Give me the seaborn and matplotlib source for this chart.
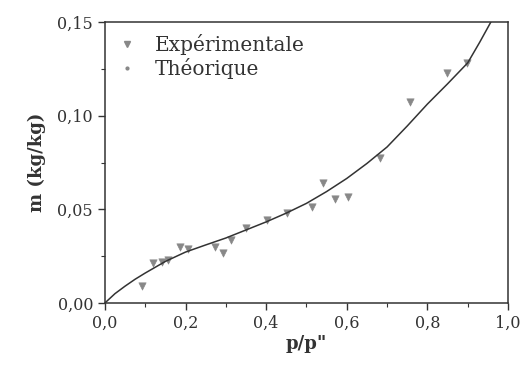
import numpy as np
import pandas as pd
import matplotlib
matplotlib.use('Agg')
import matplotlib.pyplot as plt
import matplotlib.ticker as ticker
from matplotlib.lines import Line2D
import seaborn as sns

exp_x = [0.091, 0.12, 0.141, 0.157, 0.186, 0.207, 0.273, 0.293, 0.314, 0.351,
         0.401, 0.451, 0.513, 0.542, 0.571, 0.603, 0.682, 0.757, 0.848, 0.897]
exp_y = [0.0091, 0.0212, 0.022, 0.023, 0.030, 0.029, 0.030, 0.0265, 0.0336, 0.0399,
         0.0443, 0.0479, 0.0514, 0.0642, 0.0553, 0.0567, 0.0772, 0.1075, 0.1226, 0.128]

# courbe théorique
th_x = [0.0, 0.025, 0.05, 0.075, 0.1, 0.15, 0.2, 0.25, 0.3, 0.35, 0.4, 0.45, 0.5,
        0.55, 0.6, 0.65, 0.7, 0.75, 0.8, 0.85, 0.9, 0.93, 0.96]
th_y = [0.0, 0.005, 0.009, 0.0127, 0.016, 0.0222, 0.0272, 0.031, 0.0347, 0.039, 0.0433, 0.048, 0.0532,
        0.0595, 0.0665, 0.0745, 0.0833, 0.0945, 0.1062, 0.117, 0.1282, 0.1393, 0.151]

df_exp = pd.DataFrame({'x': exp_x, 'y': exp_y})
df_th = pd.DataFrame({'x': th_x, 'y': th_y})

sns.set_style('ticks')
plt.rcParams['font.family'] = ['DejaVu Serif']

fig = plt.figure(figsize=(5.27, 3.70), dpi=100)
ax = fig.add_axes([0.199, 0.181, 0.765, 0.7595])

ink = '#333333'
grey = '#888888'
sns.lineplot(data=df_th, x='x', y='y', ax=ax, color=ink, lw=1.1, legend=False)
sns.scatterplot(data=df_exp, x='x', y='y', ax=ax, marker='v', s=28,
                color=grey, edgecolor=grey, legend=False)

ax.set_xlim(0, 1.0)
ax.set_ylim(0, 0.15)
ax.xaxis.set_major_locator(ticker.MultipleLocator(0.2))
ax.xaxis.set_minor_locator(ticker.MultipleLocator(0.1))
ax.yaxis.set_major_locator(ticker.MultipleLocator(0.05))
ax.yaxis.set_minor_locator(ticker.MultipleLocator(0.025))
ax.xaxis.set_major_formatter(ticker.FuncFormatter(lambda v, p: f'{v:.1f}'.replace('.', ',')))
ax.yaxis.set_major_formatter(ticker.FuncFormatter(lambda v, p: f'{v:.2f}'.replace('.', ',')))
ax.tick_params(which='major', length=5, width=1, colors=ink, labelsize=11.5, direction='out')
ax.tick_params(which='minor', length=3, width=0.8, colors=ink, direction='out')
for s in ax.spines.values():
    s.set_color(ink)
    s.set_linewidth(1.1)

ax.set_xlabel('p/p"', fontsize=13, fontweight='bold', color=ink, labelpad=2)
ax.set_ylabel('m (kg/kg)', fontsize=13, fontweight='bold', color=ink, labelpad=8)

handles = [Line2D([], [], ls='none', marker='v', ms=4, color=grey),
           Line2D([], [], ls='none', marker='.', ms=4, color=grey)]
ax.legend(handles, ['Expérimentale', 'Théorique'], loc='upper left', frameon=False,
          fontsize=14.5, handletextpad=0.9, borderaxespad=0.2, labelspacing=0.15,
          handlelength=1.0, labelcolor=ink, borderpad=0.4)

fig.savefig('out.png', dpi=100)
